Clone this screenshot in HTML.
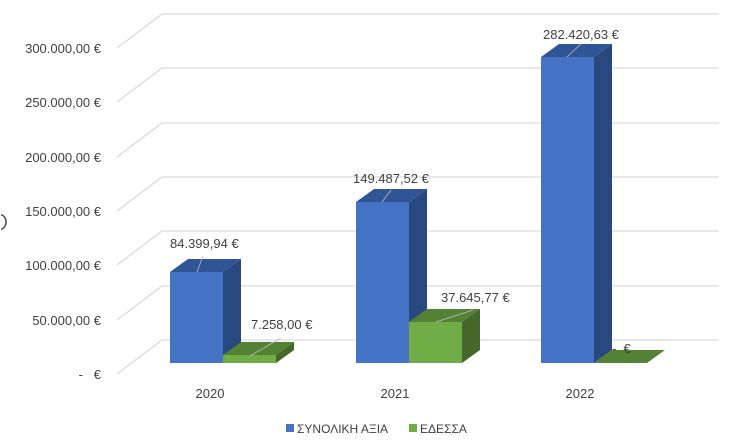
<!DOCTYPE html>
<html><head><meta charset="utf-8"><style>
body{margin:0;background:#fff;}
svg{display:block;font-family:"Liberation Sans","DejaVu Sans",sans-serif;}
</style></head><body>
<svg width="738" height="440" viewBox="0 0 738 440">
<g stroke="#d9d9d9" stroke-width="1.3" fill="none">
<polyline points="117,374 162,340 719,340"/>
<polyline points="117,320 162,286 719,286"/>
<polyline points="117,265 162,231 719,231"/>
<polyline points="117,211 162,177 719,177"/>
<polyline points="117,157 162,123 719,123"/>
<polyline points="117,102 162,68 719,68"/>
<polyline points="117,48 162,14 719,14"/>
</g>
<g font-size="13" fill="#404040" text-anchor="end">
<text x="101" y="53">300.000,00 €</text>
<text x="101" y="107">250.000,00 €</text>
<text x="101" y="162">200.000,00 €</text>
<text x="101" y="216">150.000,00 €</text>
<text x="101" y="270">100.000,00 €</text>
<text x="101" y="325">50.000,00 €</text>
<text x="101" y="379">-&#160;&#160;&#160;€</text>
</g>
<path d="M-4,215 A5,7 0 0 1 -4,229" stroke="#555" stroke-width="1.6" fill="none" transform="translate(5,0)"/>
<!-- 2020 -->
<polygon points="170,272 188,259 241,259 223,272" fill="#2f5597"/>
<polygon points="223,272 241,259 241,350 223,363" fill="#2a4880"/>
<rect x="170" y="272" width="53" height="91" fill="#4472c4"/>
<polygon points="223,355 241,342 294,342 276,355" fill="#548235"/>
<polygon points="276,355 294,342 294,350 276,363" fill="#43682a"/>
<rect x="223" y="355" width="53" height="8" fill="#70ad47"/>
<!-- 2021 -->
<polygon points="356,202 374,189 427,189 409,202" fill="#2f5597"/>
<polygon points="409,202 427,189 427,350 409,363" fill="#2a4880"/>
<rect x="356" y="202" width="53" height="161" fill="#4472c4"/>
<polygon points="409,322 427,309 480,309 462,322" fill="#548235"/>
<polygon points="462,322 480,309 480,350 462,363" fill="#43682a"/>
<rect x="409" y="322" width="53" height="41" fill="#70ad47"/>
<!-- 2022 -->
<polygon points="541,57 559,44 612,44 594,57" fill="#2f5597"/>
<polygon points="594,57 612,44 612,350 594,363" fill="#2a4880"/>
<rect x="541" y="57" width="53" height="306" fill="#4472c4"/>
<polygon points="594,363 612,350 665,350 647,363" fill="#548235"/>
<g stroke="#bfbfbf" stroke-width="0.8">
<line x1="197" y1="272" x2="203" y2="256"/>
<line x1="250" y1="356" x2="281" y2="338"/>
<line x1="382" y1="202" x2="391" y2="190"/>
<line x1="436" y1="322" x2="473" y2="310"/>
<line x1="567" y1="57" x2="581" y2="44"/>
</g>
<g font-size="13" fill="#404040">
<text x="170" y="248">84.399,94 €</text>
<text x="251" y="329">7.258,00 €</text>
<text x="353" y="183">149.487,52 €</text>
<text x="441" y="302">37.645,77 €</text>
<text x="543" y="39">282.420,63 €</text>
<text x="612" y="353">-&#160;&#160;€</text>
</g>
<g font-size="13" fill="#404040" text-anchor="middle">
<text x="210" y="398">2020</text>
<text x="395" y="398">2021</text>
<text x="580" y="398">2022</text>
</g>
<rect x="286" y="424" width="8" height="8" fill="#4472c4"/>
<text x="297" y="433" font-size="12" fill="#404040">ΣΥΝΟΛΙΚΗ ΑΞΙΑ</text>
<rect x="409" y="424" width="8" height="8" fill="#70ad47"/>
<text x="420" y="433" font-size="12" fill="#404040">ΕΔΕΣΣΑ</text>
</svg>
</body></html>
